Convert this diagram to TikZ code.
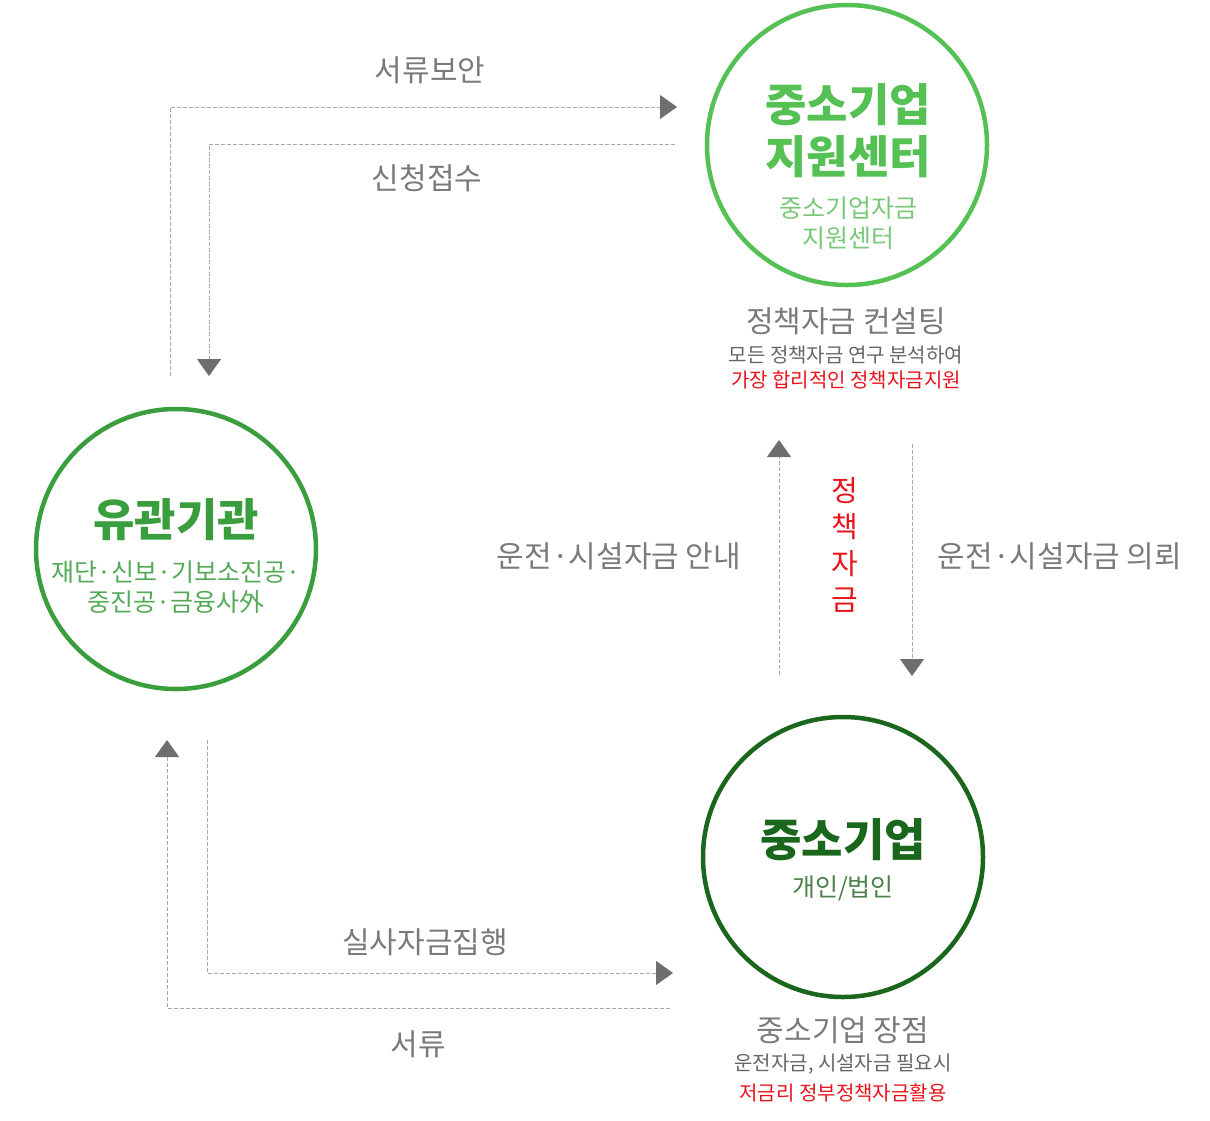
\documentclass[tikz,border=0pt]{standalone}
\usepackage{fontspec}
\setmainfont{Noto Sans CJK KR}
\usepackage{xcolor}
\usepackage{tikz}
\usetikzlibrary{arrows.meta}
\usetikzlibrary{positioning}

\definecolor{centergreen}{HTML}{55C155}
\definecolor{centersub}{HTML}{78C878}
\definecolor{orggreen}{HTML}{3A9E3E}
\definecolor{orgsub}{HTML}{55AA58}
\definecolor{firmgreen}{HTML}{1A661C}
\definecolor{firmsub}{HTML}{4C7F4C}
\definecolor{labelgray}{HTML}{7A7A7A}
\definecolor{notegray}{HTML}{666666}
\definecolor{linegray}{HTML}{A8A8A8}
\definecolor{tipgray}{HTML}{6E6E6E}
\definecolor{notered}{HTML}{E8141B}

\begin{document}
\begin{tikzpicture}[x=1pt,y=-1pt,
  ring/.style={circle,draw,line width=4.5pt,minimum size=280pt,inner sep=0pt},
  title/.style={align=center,inner sep=0pt,font=\fontsize{45}{52}\selectfont\bfseries},
  subtitle/.style={align=center,inner sep=0pt,font=\fontsize{25}{30}\selectfont},
  label/.style={inner sep=0pt,text=labelgray,font=\fontsize{30}{32}\selectfont},
  note/.style={inner sep=0pt,text=notegray,font=\fontsize{20}{22}\selectfont},
  flow/.style={draw=linegray,line width=0.9pt,dash pattern=on 4pt off 2pt,
    -{Triangle[length=17pt,width=24pt,color=tipgray]}}]
\useasboundingbox (0,0) rectangle (1210,1120);

% circles
\node[ring,draw=centergreen] (center) at (847,145) {};
\node[ring,draw=orggreen] (org) at (176,549) {};
\node[ring,draw=firmgreen] (firm) at (843,857) {};

% text in circles
\node[title,text=centergreen] (centertitle) at (848,131) {중소기업\\지원센터};
\node[subtitle,text=centersub] (centersub) at (848,223) {중소기업자금\\지원센터};
\node[title,text=orggreen] (orgtitle) at (176,520) {유관기관};
\node[subtitle,text=orgsub] (orgsub) at (176,587) {재단·신보·기보소진공·\\중진공·금융사外};
\node[title,text=firmgreen] (firmtitle) at (843,840) {중소기업};
\node[subtitle,text=firmsub] (firmsub) at (843,888) {개인/법인};

% notes under circles
\node[label] (centernote) at (846,321) {정책자금 컨설팅};
\node[note] (centernote2) at (846,355) {모든 정책자금 연구 분석하여};
\node[note,text=notered] (centernote3) at (846,380) {가장 합리적인 정책자금지원};
\node[label] (firmnote) at (843,1030) {중소기업 장점};
\node[note] (firmnote2) at (843,1064) {운전자금, 시설자금 필요시};
\node[note,text=notered] (firmnote3) at (843,1093) {저금리 정부정책자금활용};

% flow labels
\node[label] (docsup) at (430,70) {서류보안};
\node[label] (apply) at (427,178) {신청접수};
\node[label] (guide) at (619,556) {운전·시설자금 안내};
\node[label] (request) at (1060,556) {운전·시설자금 의뢰};
\node[label,text=notered,align=center,font=\fontsize{29}{36.5}\selectfont] (policy) at (845,545) {정\\책\\자\\금};
\node[label] (execute) at (425,942) {실사자금집행};
\node[label] (docs) at (418,1044) {서류};

% flow ends
\coordinate (a1) at (170,376);
\coordinate (a2) at (677,107);
\coordinate (b1) at (675,144);
\coordinate (b2) at (209,376);
\coordinate (c1) at (779,675);
\coordinate (c2) at (779,440);
\coordinate (d1) at (912,444);
\coordinate (d2) at (912,676);
\coordinate (e1) at (207,740);
\coordinate (e2) at (673,973);
\coordinate (f1) at (670,1008);
\coordinate (f2) at (167,740);

\draw[flow] (a1) |- (a2);
\draw[flow] (b1) -| (b2);
\draw[flow] (c1) -- (c2);
\draw[flow] (d1) -- (d2);
\draw[flow] (e1) |- (e2);
\draw[flow] (f1) -| (f2);
\end{tikzpicture}
\end{document}
